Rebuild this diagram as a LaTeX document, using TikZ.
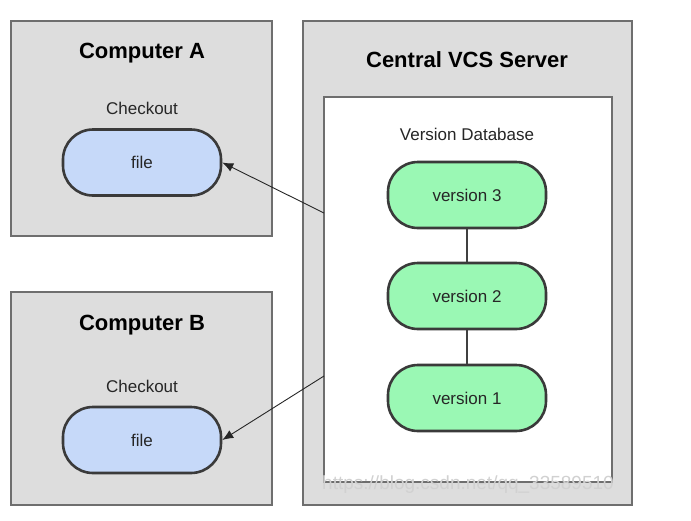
\documentclass[tikz,border=0pt]{standalone}
\usepackage{fontspec}
\setmainfont{Liberation Sans}
\usetikzlibrary{arrows.meta}
\definecolor{boxgray}{HTML}{DDDDDD}
\definecolor{boxline}{HTML}{6E6E6E}
\definecolor{fileblue}{HTML}{C6D9F9}
\definecolor{vergreen}{HTML}{9AF8B4}
\definecolor{nodeline}{HTML}{3A3A3A}
\tikzset{
  panel/.style={draw=boxline, fill=boxgray, line width=1.4pt},
  dbbox/.style={draw=boxline, fill=white, line width=1.4pt},
  title/.style={font=\fontsize{22}{26}\selectfont\bfseries, text=black},
  label/.style={font=\fontsize{17}{20}\selectfont, text=black!85},
  pill/.style={draw=nodeline, line width=2.6pt, rounded corners=30pt, minimum width=158pt, minimum height=66pt, font=\fontsize{17}{20}\selectfont, text=black!85},
  filepill/.style={pill, fill=fileblue},
  verpill/.style={pill, fill=vergreen},
  link/.style={draw=black!75, line width=1.1pt},
  fetch/.style={draw=black!85, line width=0.9pt, -{Latex[length=11pt,width=9pt]}}
}
\begin{document}
\begin{tikzpicture}[x=1pt,y=-1pt]
\useasboundingbox (0,0) rectangle (691,520);
% boxes
\node[panel, minimum width=261pt, minimum height=215pt, inner sep=0pt] (ca) at (141.5,128.5) {};
\node[panel, minimum width=261pt, minimum height=213pt, inner sep=0pt] (cb) at (141.5,398.5) {};
\node[panel, minimum width=329pt, minimum height=484pt, inner sep=0pt] (srv) at (467.5,263) {};
\node[dbbox, minimum width=288pt, minimum height=385pt, inner sep=0pt] (db) at (468,289.5) {};
% titles and labels
\node[title] (tA) at (142,53) {Computer A};
\node[title] (tB) at (142,325) {Computer B};
\node[title] (tS) at (467,60) {Central VCS Server};
\node[label] (lA) at (142,108) {Checkout};
\node[label] (lB) at (142,386) {Checkout};
\node[label] (lD) at (467,134) {Version Database};
% nodes
\node[filepill] (fA) at (142,162.5) {file};
\node[filepill] (fB) at (142,440) {file};
\node[verpill] (v3) at (467,195) {version 3};
\node[verpill] (v2) at (467,296) {version 2};
\node[verpill] (v1) at (467,398) {version 1};
% links
\draw[link] (v3) -- (v2);
\draw[link] (v2) -- (v1);
\coordinate (sA) at (324,213);
\coordinate (sB) at (324,376);
\draw[fetch] (sA) -- (fA.east);
\draw[fetch] (sB) -- (fB.east);
% watermark
\node[font=\fontsize{19}{22}\selectfont, text=black!18] (wm) at (468,485) {https://blog.csdn.net/qq\_33589510};
\end{tikzpicture}
\end{document}
